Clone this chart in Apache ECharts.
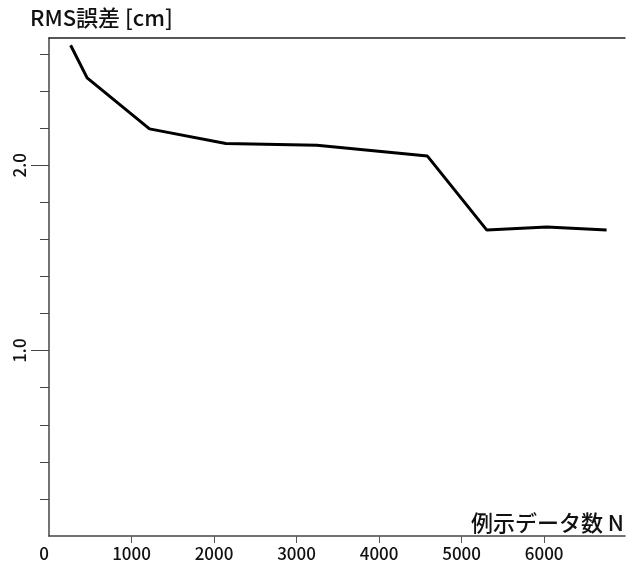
<!DOCTYPE html>
<html>
<head>
<meta charset="utf-8">
<script src="https://cdn.jsdelivr.net/npm/echarts@6/dist/echarts.min.js"></script>
<style>
  html, body { margin: 0; padding: 0; background: #fff; }
  #chart { width: 627px; height: 566px; }
</style>
</head>
<body>
<div id="chart"></div>
<script>
// RMS error vs. number of example data points.
var sampleCounts = [262, 462, 1218, 2143, 3247, 4586, 5306, 6033, 6757];
var rmsErrors = [2.647, 2.471, 2.196, 2.117, 2.108, 2.049, 1.650, 1.667, 1.650];

var xTicks = [1000, 2000, 3000, 4000, 5000, 6000];
var xLabels = [0, 1000, 2000, 3000, 4000, 5000, 6000];
var yMinorTicks = [0.2, 0.4, 0.6, 0.8, 1.2, 1.4, 1.6, 1.8, 2.2, 2.4, 2.6];
var yMajorTicks = [1.0, 2.0];

var FONT = '"Noto Sans CJK JP", "Noto Sans", sans-serif';
var PLOT = { left: 49, right: 0, top: 38, bottom: 30 };

var chart = echarts.init(document.getElementById('chart'));
chart.setOption({
  animation: false,
  backgroundColor: '#fff',
  textStyle: { fontFamily: FONT },
  title: {
    text: 'RMS誤差 [cm]',
    left: 25, top: 2,
    textStyle: { fontFamily: FONT, fontSize: 22, fontWeight: 500, color: '#111' }
  },
  // second grid shares the plot rect; it only carries the long major y ticks + labels
  grid: [PLOT, PLOT],
  xAxis: [{
    type: 'value', min: 0, max: 6980, position: 'bottom',
    name: '例示データ数 N', nameLocation: 'end', nameGap: -1,
    nameTextStyle: {
      fontFamily: FONT, fontSize: 22, fontWeight: 500, color: '#111',
      align: 'right', verticalAlign: 'bottom', padding: [0, 0, 2, 0]
    },
    axisLine: { show: true, onZero: false, lineStyle: { color: '#444', width: 1.5 } },
    axisTick: { show: true, customValues: xTicks, length: 7, lineStyle: { color: '#555' } },
    axisLabel: {
      customValues: xLabels, margin: 9, alignMinLabel: 'right',
      fontFamily: FONT, fontSize: 17, fontWeight: 500, color: '#111',
      formatter: function (v) { return String(v); }
    },
    splitLine: { show: false }
  }, {
    type: 'value', min: 0, max: 6980, position: 'top',
    axisLine: { show: true, onZero: false, lineStyle: { color: '#222', width: 1.5 } },
    axisTick: { show: false }, axisLabel: { show: false }, splitLine: { show: false }
  }, {
    type: 'value', gridIndex: 1, min: 0, max: 6980, show: false
  }],
  yAxis: [{
    type: 'value', min: 0, max: 2.686, position: 'left',
    axisLine: { show: true, lineStyle: { color: '#444', width: 1.5 } },
    axisTick: { show: true, customValues: yMinorTicks, length: 9, lineStyle: { color: '#444' } },
    axisLabel: { show: false },
    splitLine: { show: false }
  }, {
    type: 'value', gridIndex: 1, min: 0, max: 2.686, position: 'left',
    axisLine: { show: false },
    axisTick: { show: true, customValues: yMajorTicks, length: 18, lineStyle: { color: '#444' } },
    axisLabel: {
      customValues: yMajorTicks, rotate: 90, margin: 21,
      fontFamily: FONT, fontSize: 17, fontWeight: 500, color: '#111',
      formatter: function (v) { return Number(v).toFixed(1); }
    },
    splitLine: { show: false }
  }],
  series: [{
    type: 'line',
    data: sampleCounts.map(function (n, i) { return [n, rmsErrors[i]]; }),
    showSymbol: false,
    lineStyle: { color: '#000', width: 3 }
  }]
});
</script>
</body>
</html>
